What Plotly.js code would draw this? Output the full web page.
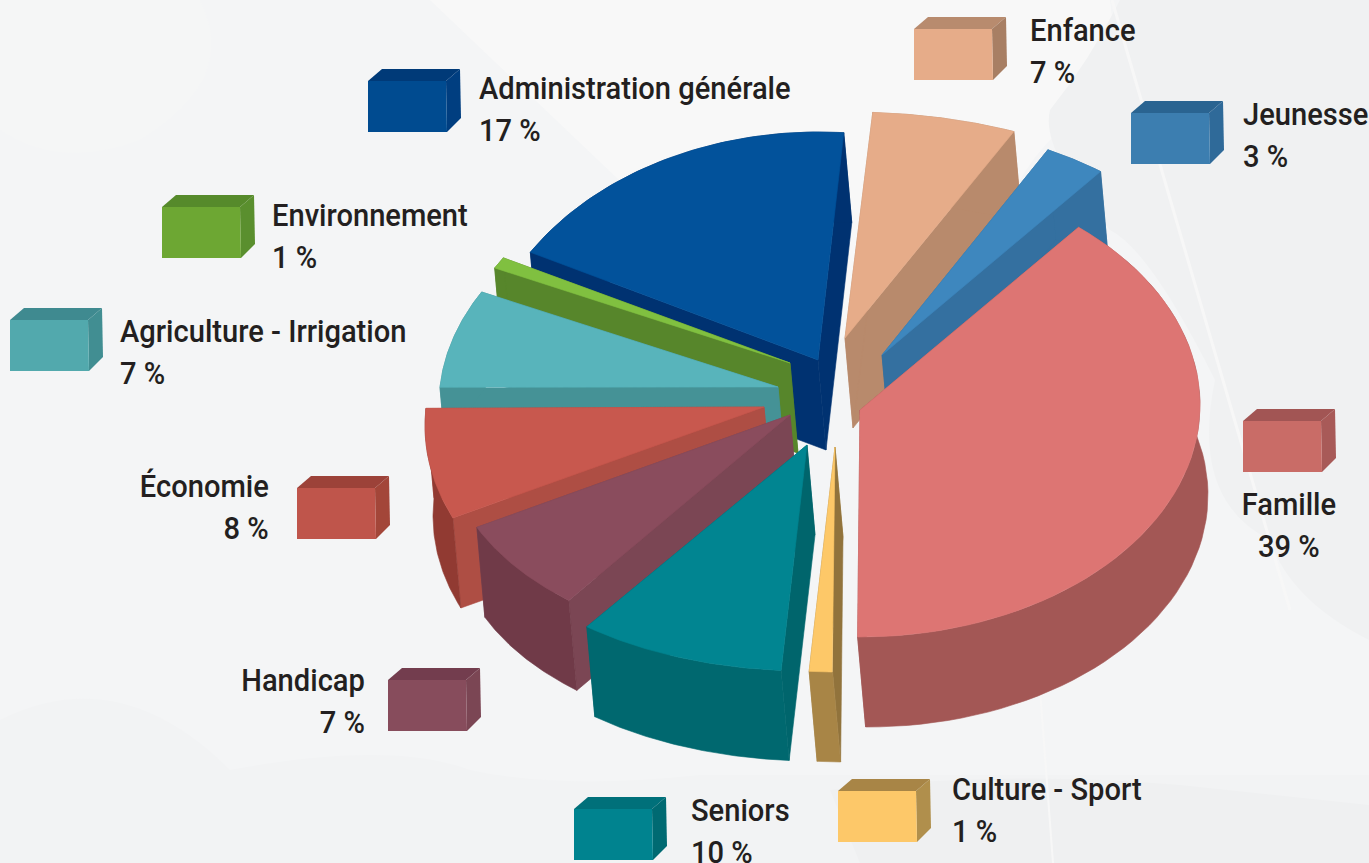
<!DOCTYPE html>
<html>
<head>
<meta charset="utf-8">
<script src="https://cdn.plot.ly/plotly-3.0.1.min.js"></script>
<style>html,body{margin:0;padding:0;background:#f4f5f6;overflow:hidden}</style>
</head>
<body>
<div id="chart" style="width:1369px;height:863px"></div>
<script>
// ---- data ----
const categories = ["Famille","Culture - Sport","Seniors","Handicap","Économie","Agriculture - Irrigation","Environnement","Administration générale","Enfance","Jeunesse"];
const percentLabels = [39,1,10,7,8,7,1,17,7,3];
// unrounded shares estimated from the angle of each slice in the picture
const shares = [39,1.1,10,7.3,7.7,6.85,0.8,17.3,6.95,3];

// ---- styles ----
const topColors   = ["#dd7573","#fdc868","#018591","#8a4c5d","#c8584e","#58b4bb","#80c040","#02529b","#e6ac89","#3e87be"];
const startWall   = ["#a35755","#91733c","#00656c","#7b4654","#ae4e44","#459296","#57862b","#003271","#b88a6c","#3470a0"];
const endWall     = ["#a35755","#a88546","#00656c","#7b4654","#ae4e44","#459296","#57862b","#003271","#b88a6c","#3470a0"];
const outerWall   = ["#a35755","#a88546","#00686f","#703a48","#913a32","#459296","#57862b","#003271","#b88a6c","#3470a0"];
const swatchFront = ["#c96c67","#fdc869","#00838f","#874c5c","#bf554b","#52a9ad","#6da733","#004b90","#e6ac89","#3c7eb0"];
const swatchTop   = ["#a25554","#a88546","#00707a","#733d4e","#9c4239","#3f8a90","#568a2b","#003a78","#b88b6e","#2a6491"];
const swatchSide  = ["#a85a58","#b08f4c","#006a72","#7b4654","#a34639","#418e92","#5a8f2e","#003e80","#a87f64","#2f6a99"];

// ---- layout of the exploded pie (pixels of the axes) ----
const startAngle = 40, rx = 340, depthX = 8, depthY = 90;
const apexX = [860,835,807,790,764,778,790,818,845,882];
const apexY = [410,447,445,415,407,387,363,360,338,355];
const arcX  = [860,835,807,789,765,779,792,819,848,882];
const arcY  = [405,447,485,448,426,405,381,387,266,327];
const arcRy = [232,225,186,200,232,233,233,255,154,203];
const paintOrder = [7,8,9,6,5,4,3,2,1,0];

// ---- legend key layout ----
const keyX = [1243,838,574,388,297,10,162,368,914,1131];
const keyY = [421,791,809,680,488,320,207,81,29,113];
const keyW = 78, keyH = 51, keyDX = 14, keyDY = 12;
const labelX = [1289,950,689,367,271,118,270,477,1028,1241];
const labelY = [525,809.5,830.5,700.5,506.5,351.5,236,109,50.5,135];
const labelAnchor = ["center","left","left","right","right","left","left","left","left","left"];
const labelSqueeze = 0.91;

// ---- geometry from values ----
const rad = d => d * Math.PI / 180;
let cum = startAngle;
const spans = shares.map(s => { const a = cum; cum += s * 3.6; return [a, cum]; });

function arcPts(i, n) {
  const [a, b] = spans[i], pts = [];
  for (let k = 0; k <= n; k++) {
    const t = rad(a + (b - a) * k / n);
    pts.push([arcX[i] + rx * Math.sin(t), arcY[i] - arcRy[i] * Math.cos(t)]);
  }
  return pts;
}
const drop = p => [p[0] + depthX, p[1] + depthY];
function poly(pts, color, name) {
  return {type:"scatter", mode:"lines", line:{color:color, width:0.6}, fill:"toself", fillcolor:color,
          x: pts.concat([pts[0]]).map(p => p[0]), y: pts.concat([pts[0]]).map(p => p[1]),
          name: name, text: name, hoverinfo:"text", showlegend:false};
}

const traces = [];
paintOrder.forEach(i => {
  const name = categories[i] + " " + percentLabels[i] + " %";
  const arc = arcPts(i, 60);
  const apex = [apexX[i], apexY[i]];
  const s = arc[0], e = arc[arc.length - 1];
  traces.push(poly([apex, e, drop(e), drop(apex)], endWall[i], name));
  traces.push(poly([apex, s, drop(s), drop(apex)], startWall[i], name));
  traces.push(poly(arc.concat(arc.slice().reverse().map(drop)), outerWall[i], name));
  traces.push(poly([apex].concat(arc), topColors[i], name));
});

// ---- background texture and legend keys ----
const shapes = [];
function bg(path, color) {
  shapes.push({type:"path", path, fillcolor:color, line:{width:0}, layer:"below", xref:"x", yref:"y"});
}
bg("M430 0 L1110 0 L1120 90 Q1040 130 1010 200 L840 340 L640 200 Z", "#f8f8f8");
bg("M1120 0 L1369 0 L1369 640 Q1290 600 1270 540 Q1190 500 1215 380 Q1150 250 1110 230 Q1040 150 1050 110 Q1090 60 1120 0 Z", "#f0f1f2");
bg("M0 720 Q120 660 230 770 Q390 740 470 770 Q560 790 700 775 L1369 775 L1369 863 L0 863 Z", "#f2f3f4");
bg("M830 790 Q1000 770 1180 785 L1369 805 L1369 863 L860 863 Z", "#eff0f1");
bg("M0 0 L200 0 Q240 80 140 140 Q60 170 0 130 Z", "#f5f6f6");
shapes.push({type:"line", x0:1112, y0:0, x1:1290, y1:610, line:{color:"#f7f7f7", width:3}, layer:"below"});
shapes.push({type:"line", x0:1040, y0:690, x1:1053, y1:863, line:{color:"#f7f7f7", width:2}, layer:"below"});

categories.forEach((c, i) => {
  const x = keyX[i], y = keyY[i], w = keyW, h = keyH, dx = keyDX, dy = keyDY;
  shapes.push({type:"path", path:`M${x} ${y} L${x+dx} ${y-dy} L${x+w+dx} ${y-dy} L${x+w} ${y} Z`, fillcolor:swatchTop[i], line:{width:0}});
  shapes.push({type:"path", path:`M${x+w} ${y} L${x+w+dx} ${y-dy} L${x+w+dx+1} ${y+h-14} L${x+w+1} ${y+h} Z`, fillcolor:swatchSide[i], line:{width:0}});
  shapes.push({type:"path", path:`M${x} ${y} L${x+w} ${y} L${x+w+1} ${y+h} L${x} ${y+h} Z`, fillcolor:swatchFront[i], line:{width:0}});
});

const annotations = categories.map((c, i) => ({
  x: labelX[i], y: labelY[i], xref:"x", yref:"y",
  xanchor: labelAnchor[i], yanchor:"middle", align: labelAnchor[i],
  text: c + "<br>" + percentLabels[i] + " %",
  showarrow:false,
  font:{family:"Roboto, 'Liberation Sans', sans-serif", size:32, weight:500, color:"#231f20"}
}));

Plotly.newPlot("chart", traces, {
  width:1369, height:863, margin:{l:0,r:0,t:0,b:0},
  paper_bgcolor:"#f4f5f6", plot_bgcolor:"rgba(0,0,0,0)",
  xaxis:{range:[0,1369], visible:false, fixedrange:true},
  yaxis:{range:[863,0], visible:false, fixedrange:true},
  shapes, annotations, showlegend:false
}, {displayModeBar:false}).then(() => {
  // the reference type is condensed: squeeze each label about its anchor side
  document.querySelectorAll("#chart text.annotation-text").forEach(el => {
    const box = el.getBBox();
    const anchor = el.style.textAnchor || el.getAttribute("text-anchor") || "start";
    const X = anchor === "middle" ? box.x + box.width / 2 : anchor === "end" ? box.x + box.width : box.x;
    el.setAttribute("transform", `translate(${X} 0) scale(${labelSqueeze} 1) translate(${-X} 0)`);
  });
});
</script>
</body>
</html>
